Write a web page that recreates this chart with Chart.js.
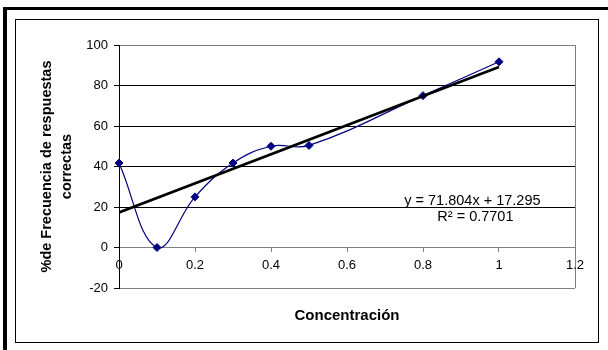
<!DOCTYPE html>
<html>
<head>
<meta charset="utf-8">
<script src="https://cdn.jsdelivr.net/npm/chart.js@4/dist/chart.umd.min.js"></script>
<style>
  html, body { margin: 0; padding: 0; background: #fff; }
  canvas { display: block; }
</style>
</head>
<body>
<canvas id="c" width="608" height="350"></canvas>
<script>
// Concentration levels and % of correct answers
const concentracion = [0, 0.1, 0.2, 0.3, 0.4, 0.5, 0.8, 1.0];
const pctCorrectas = [41.7, 0, 25, 41.7, 50, 50.4, 75, 91.7];

// Linear trend fitted to the series
const trendSlope = 71.804;
const trendIntercept = 17.295;
const trendR2 = 0.7701;

// Axis tick labels
const xTickLabels = ['0', '0.2', '0.4', '0.6', '0.8', '1', '1.2'];
const yTickLabels = ['-20', '0', '20', '40', '60', '80', '100'];

const FONT = "'Liberation Sans', Arial, Helvetica, sans-serif";
Chart.defaults.font.family = FONT;
Chart.defaults.color = '#000';

const points = concentracion.map((x, i) => ({ x, y: pctCorrectas[i] }));
const trendStart = concentracion[0];
const trendEnd = concentracion[concentracion.length - 1];
const trendPoints = [
  { x: trendStart, y: trendIntercept + trendSlope * trendStart },
  { x: trendEnd, y: trendIntercept + trendSlope * trendEnd }
];

// Outer frame: heavy black edge on top/left plus a thin inner box
const framePlugin = {
  id: 'frame',
  beforeDraw(chart) {
    const ctx = chart.ctx;
    ctx.save();
    ctx.fillStyle = '#fff';
    ctx.fillRect(0, 0, chart.width, chart.height);
    ctx.fillStyle = '#000';
    ctx.fillRect(3, 7, 4, chart.height - 7);
    ctx.fillRect(3, 7, chart.width - 3, 3);
    ctx.strokeStyle = '#000';
    ctx.lineWidth = 1;
    ctx.strokeRect(15.5, 19.5, 583, 323);
    ctx.restore();
  }
};

// Trend equation and R² written next to the trend line
const equationPlugin = {
  id: 'equation',
  afterDatasetsDraw(chart) {
    const { ctx, scales } = chart;
    const px = scales.x.getPixelForValue(0.93);
    const py = scales.y.getPixelForValue(23.2);
    ctx.save();
    ctx.fillStyle = '#000';
    ctx.font = '14.5px ' + FONT;
    ctx.textAlign = 'center';
    ctx.textBaseline = 'middle';
    ctx.fillText('y = ' + trendSlope + 'x + ' + trendIntercept, px, py);
    ctx.fillText('R\u00B2 = ' + trendR2, px + 3, py + 16);
    ctx.restore();
  }
};

new Chart(document.getElementById('c'), {
  type: 'line',
  data: {
    datasets: [
      {
        label: 'Lineal',
        data: trendPoints,
        borderColor: '#000',
        borderWidth: 2.6,
        pointRadius: 0,
        tension: 0,
        fill: false
      },
      {
        label: '% correctas',
        data: points,
        borderColor: '#000080',
        backgroundColor: '#000080',
        borderWidth: 1.2,
        pointStyle: 'rectRot',
        pointRadius: 4,
        pointBorderWidth: 1,
        pointBackgroundColor: '#000080',
        pointBorderColor: '#000080',
        tension: 0.4,
        fill: false,
        clip: false
      }
    ]
  },
  options: {
    responsive: false,
    animation: false,
    devicePixelRatio: 1,
    events: [],
    layout: { padding: { top: 45, right: 33, bottom: 25, left: 0 } },
    plugins: {
      legend: { display: false },
      tooltip: { enabled: false },
      title: {
        display: true,
        text: 'Concentración',
        position: 'bottom',
        fullSize: false,
        color: '#000',
        font: { size: 15, weight: 'bold', lineHeight: 1.2 },
        padding: { top: 19, bottom: 0 }
      }
    },
    scales: {
      x: {
        type: 'linear',
        position: { y: 0 },
        min: 0,
        max: 1.2,
        ticks: {
          stepSize: 0.2,
          font: { size: 13 },
          color: '#000',
          padding: 6,
          maxRotation: 0,
          callback: (v, i) => xTickLabels[i]
        },
        grid: {
          color: (c) => (c.tick && c.tick.value > 1.19 ? '#808080' : 'rgba(0,0,0,0)'),
          lineWidth: 1,
          drawTicks: true,
          tickLength: 4,
          tickColor: '#808080'
        },
        border: { display: true, color: '#808080', width: 1 }
      },
      y: {
        type: 'linear',
        position: 'left',
        min: -20,
        max: 100,
        afterFit: (scale) => { scale.width = 119; },
        ticks: {
          stepSize: 20,
          font: { size: 13 },
          color: '#000',
          padding: 6,
          callback: (v, i) => yTickLabels[i]
        },
        grid: {
          color: (c) => {
            const v = c.tick ? c.tick.value : null;
            return (v === 100 || v === -20 || v === 0) ? '#808080' : '#000';
          },
          lineWidth: 1,
          tickLength: 5,
          tickColor: '#000'
        },
        border: { display: true, color: '#000', width: 1 },
        title: {
          display: true,
          text: ['%de Frecuencia de respuestas', 'correctas'],
          color: '#000',
          font: { size: 14.5, weight: 'bold', lineHeight: 20 / 14.5 },
          padding: { top: 37, bottom: 0 }
        }
      }
    }
  },
  plugins: [framePlugin, equationPlugin]
});
</script>
</body>
</html>
